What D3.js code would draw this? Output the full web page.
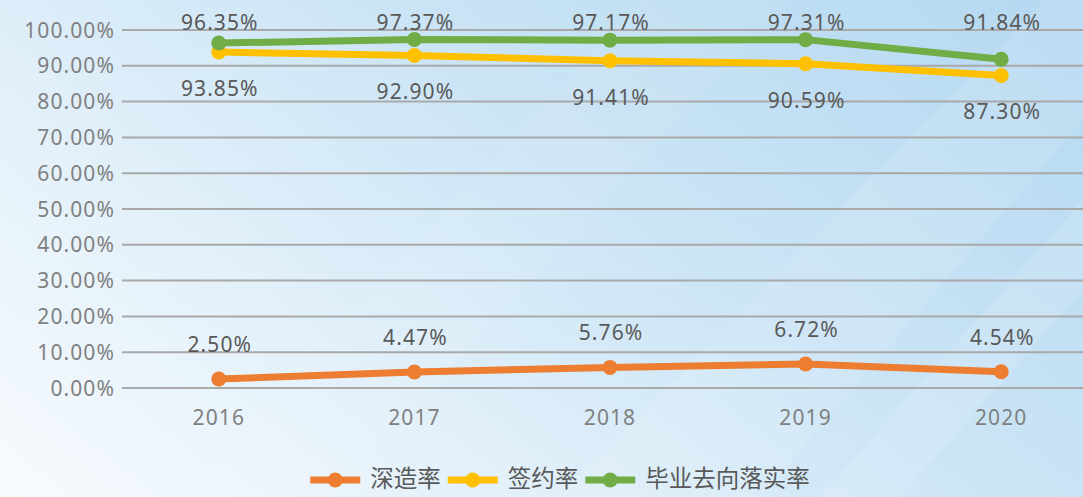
<!DOCTYPE html>
<html>
<head>
<meta charset="utf-8">
<script src="https://cdn.jsdelivr.net/npm/d3@7"></script>
<style>
  html, body { margin: 0; padding: 0; background: #ffffff; }
  svg { display: block; }
  text { font-family: "Noto Sans", "Open Sans", "Noto Sans CJK SC", sans-serif; }
</style>
</head>
<body>
<svg id="chart" width="1083" height="497"></svg>
<script>
// Graduate outcome rates by year
const years = ["2016", "2017", "2018", "2019", "2020"];
const furtherStudy = [0.0250, 0.0447, 0.0576, 0.0672, 0.0454];   // 深造率
const contractRate = [0.9385, 0.9290, 0.9141, 0.9059, 0.8730];   // 签约率
const placementRate = [0.9635, 0.9737, 0.9717, 0.9731, 0.9184];  // 毕业去向落实率
const yTicks = [0, 0.1, 0.2, 0.3, 0.4, 0.5, 0.6, 0.7, 0.8, 0.9, 1.0];
const seriesNames = ["深造率", "签约率", "毕业去向落实率"];

const W = 1083, H = 497;
const svg = d3.select("#chart");

// Background: soft blue wash, lighter toward the lower left, with diagonal sheen bands
const defs = svg.append("defs");
const bg = defs.append("linearGradient").attr("id", "bg")
  .attr("gradientUnits", "userSpaceOnUse")
  .attr("x1", 60).attr("y1", 560).attr("x2", 700).attr("y2", -260);
bg.append("stop").attr("offset", "0%").attr("stop-color", "#f8fbfe");
bg.append("stop").attr("offset", "30%").attr("stop-color", "#e4f1fa");
bg.append("stop").attr("offset", "60%").attr("stop-color", "#cce5f6");
bg.append("stop").attr("offset", "100%").attr("stop-color", "#b6d9f1");
svg.append("rect").attr("width", W).attr("height", H).attr("fill", "url(#bg)");

const bands = [
  [[560, 497], [760, 497], [1083, 120], [1083, -40]],
  [[820, 497], [900, 497], [1083, 290], [1083, 200]],
  [[180, 497], [330, 497], [790, 0], [640, 0]]
];
svg.append("g").selectAll("path").data(bands).join("path")
  .attr("d", d => "M" + d.join("L") + "Z")
  .attr("fill", "#ffffff").attr("opacity", (d, i) => [0.10, 0.12, 0.06][i]);

// Scales
const x = d3.scalePoint().domain(years).range([121, 1099]).padding(0.5);
const y = d3.scaleLinear().domain([0, 1]).range([388, 30]);
const pct = d3.format(".2%");

// Horizontal gridlines
svg.append("g").selectAll("line").data(yTicks).join("line")
  .attr("x1", 122).attr("x2", 1100)
  .attr("y1", d => y(d)).attr("y2", d => y(d))
  .attr("stroke", "#a9a9a9").attr("stroke-width", 2);

// Y axis labels
svg.append("g").selectAll("text").data(yTicks).join("text")
  .attr("x", 115).attr("y", d => y(d) + 7.5)
  .attr("text-anchor", "end")
  .attr("font-size", 21).attr("letter-spacing", 1.1)
  .attr("fill", "#808080")
  .text(d => pct(d));

// X axis labels
svg.append("g").selectAll("text").data(years).join("text")
  .attr("x", d => x(d)).attr("y", 425)
  .attr("text-anchor", "middle")
  .attr("font-size", 21).attr("letter-spacing", 1.1)
  .attr("fill", "#808080")
  .text(d => d);

const series = [
  { name: seriesNames[0], values: furtherStudy, color: "#ED7D31", label: v => y(v) - 27 },
  { name: seriesNames[1], values: contractRate, color: "#FFC000", label: v => y(v) + 44 },
  { name: seriesNames[2], values: placementRate, color: "#70AD47", label: v => y(1) }
];

const line = d3.line().x((d, i) => x(years[i])).y(d => y(d));

series.forEach(s => {
  const g = svg.append("g");
  g.append("path").datum(s.values)
    .attr("d", line)
    .attr("fill", "none").attr("stroke", s.color)
    .attr("stroke-width", 7).attr("stroke-linejoin", "round");
  g.selectAll("circle").data(s.values).join("circle")
    .attr("cx", (d, i) => x(years[i])).attr("cy", d => y(d))
    .attr("r", 7.5).attr("fill", s.color);
});

// Data labels drawn after all lines so they sit on top
series.forEach(s => {
  svg.append("g").selectAll("text").data(s.values).join("text")
    .attr("x", (d, i) => x(years[i]) + 1).attr("y", d => s.label(d))
    .attr("text-anchor", "middle")
    .attr("font-size", 21).attr("letter-spacing", 1.1)
    .attr("fill", "#595959")
    .text(d => pct(d));
});

// Legend
const legend = svg.append("g");
const items = legend.selectAll("g").data(series).join("g");
items.append("line").attr("x1", 0).attr("x2", 50).attr("y1", 0).attr("y2", 0)
  .attr("stroke", d => d.color).attr("stroke-width", 7);
items.append("circle").attr("cx", 25).attr("cy", 0).attr("r", 7.5).attr("fill", d => d.color);
items.append("text").attr("x", 60).attr("y", 7)
  .attr("font-size", 23.5).attr("fill", "#595959")
  .text(d => d.name);

let offset = 0;
const widths = [];
items.each(function () {
  widths.push(this.getBBox().width);
});
const gap = 7;
const total = d3.sum(widths) + gap * (widths.length - 1);
const start = 560 - total / 2;
items.attr("transform", (d, i) => {
  const tx = start + offset;
  offset += widths[i] + gap;
  return `translate(${tx},480)`;
});
</script>
</body>
</html>
